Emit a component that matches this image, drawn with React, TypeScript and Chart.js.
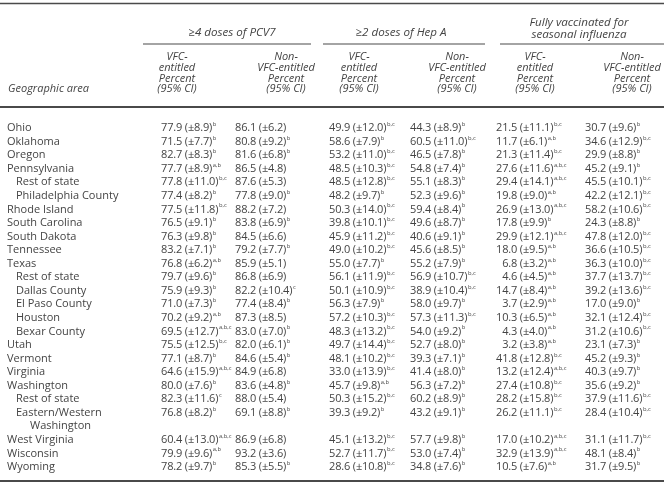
import React, { useEffect, useRef } from "react";
import { Chart, registerables } from "chart.js";
Chart.register(...registerables);

// ---------- data ----------
const areaLines: string[][] = [
  ["Ohio"], ["Oklahoma"], ["Oregon"], ["Pennsylvania"], ["Rest of state"], ["Philadelphia County"],
  ["Rhode Island"], ["South Carolina"], ["South Dakota"], ["Tennessee"], ["Texas"], ["Rest of state"],
  ["Dallas County"], ["El Paso County"], ["Houston"], ["Bexar County"], ["Utah"], ["Vermont"],
  ["Virginia"], ["Washington"], ["Rest of state"], ["Eastern/Western", "Washington"],
  ["West Virginia"], ["Wisconsin"], ["Wyoming"],
];
const areaSub = [0,0,0,0,1,1,0,0,0,0,0,1,1,1,1,1,0,0,0,0,1,1,0,0,0];

type Cell = [number, number, string];
const pcvVfc: Cell[] = [
  [77.9,8.9,"b"],[71.5,7.7,"b"],[82.7,8.3,"b"],[77.7,8.9,"a,b"],[77.8,11.0,"b,c"],[77.4,8.2,"b"],
  [77.5,11.8,"b,c"],[76.5,9.1,"b"],[76.3,9.8,"b"],[83.2,7.1,"b"],[76.8,6.2,"a,b"],[79.7,9.6,"b"],
  [75.9,9.3,"b"],[71.0,7.3,"b"],[70.2,9.2,"a,b"],[69.5,12.7,"a,b,c"],[75.5,12.5,"b,c"],[77.1,8.7,"b"],
  [64.6,15.9,"a,b,c"],[80.0,7.6,"b"],[82.3,11.6,"c"],[76.8,8.2,"b"],[60.4,13.0,"a,b,c"],[79.9,9.6,"a,b"],[78.2,9.7,"b"],
];
const pcvNon: Cell[] = [
  [86.1,6.2,""],[80.8,9.2,"b"],[81.6,6.8,"b"],[86.5,4.8,""],[87.6,5.3,""],[77.8,9.0,"b"],
  [88.2,7.2,""],[83.8,6.9,"b"],[84.5,6.6,""],[79.2,7.7,"b"],[85.9,5.1,""],[86.8,6.9,""],
  [82.2,10.4,"c"],[77.4,8.4,"b"],[87.3,8.5,""],[83.0,7.0,"b"],[82.0,6.1,"b"],[84.6,5.4,"b"],
  [84.9,6.8,""],[83.6,4.8,"b"],[88.0,5.4,""],[69.1,8.8,"b"],[86.9,6.8,""],[93.2,3.6,""],[85.3,5.5,"b"],
];
const hepVfc: Cell[] = [
  [49.9,12.0,"b,c"],[58.6,7.9,"b"],[53.2,11.0,"b,c"],[48.5,10.3,"b,c"],[48.5,12.8,"b,c"],[48.2,9.7,"b"],
  [50.3,14.0,"b,c"],[39.8,10.1,"b,c"],[45.9,11.2,"b,c"],[49.0,10.2,"b,c"],[55.0,7.7,"b"],[56.1,11.9,"b,c"],
  [50.1,10.9,"b,c"],[56.3,7.9,"b"],[57.2,10.3,"b,c"],[48.3,13.2,"b,c"],[49.7,14.4,"b,c"],[48.1,10.2,"b,c"],
  [33.0,13.9,"b,c"],[45.7,9.8,"a,b"],[50.3,15.2,"b,c"],[39.3,9.2,"b"],[45.1,13.2,"b,c"],[52.7,11.7,"b,c"],[28.6,10.8,"b,c"],
];
const hepNon: Cell[] = [
  [44.3,8.9,"b"],[60.5,11.0,"b,c"],[46.5,7.8,"b"],[54.8,7.4,"b"],[55.1,8.3,"b"],[52.3,9.6,"b"],
  [59.4,8.4,"b"],[49.6,8.7,"b"],[40.6,9.1,"b"],[45.6,8.5,"b"],[55.2,7.9,"b"],[56.9,10.7,"b,c"],
  [38.9,10.4,"b,c"],[58.0,9.7,"b"],[57.3,11.3,"b,c"],[54.0,9.2,"b"],[52.7,8.0,"b"],[39.3,7.1,"b"],
  [41.4,8.0,"b"],[56.3,7.2,"b"],[60.2,8.9,"b"],[43.2,9.1,"b"],[57.7,9.8,"b"],[53.0,7.4,"b"],[34.8,7.6,"b"],
];
const fluVfc: Cell[] = [
  [21.5,11.1,"b,c"],[11.7,6.1,"a,b"],[21.3,11.4,"b,c"],[27.6,11.6,"a,b,c"],[29.4,14.1,"a,b,c"],[19.8,9.0,"a,b"],
  [26.9,13.0,"a,b,c"],[17.8,9.9,"b"],[29.9,12.1,"a,b,c"],[18.0,9.5,"a,b"],[6.8,3.2,"a,b"],[4.6,4.5,"a,b"],
  [14.7,8.4,"a,b"],[3.7,2.9,"a,b"],[10.3,6.5,"a,b"],[4.3,4.0,"a,b"],[3.2,3.8,"a,b"],[41.8,12.8,"b,c"],
  [13.2,12.4,"a,b,c"],[27.4,10.8,"b,c"],[28.2,15.8,"b,c"],[26.2,11.1,"b,c"],[17.0,10.2,"a,b,c"],[32.9,13.9,"a,b,c"],[10.5,7.6,"a,b"],
];
const fluNon: Cell[] = [
  [30.7,9.6,"b"],[34.6,12.9,"b,c"],[29.9,8.8,"b"],[45.2,9.1,"b"],[45.5,10.1,"b,c"],[42.2,12.1,"b,c"],
  [58.2,10.6,"b,c"],[24.3,8.8,"b"],[47.8,12.0,"b,c"],[36.6,10.5,"b,c"],[36.3,10.0,"b,c"],[37.7,13.7,"b,c"],
  [39.2,13.6,"b,c"],[17.0,9.0,"b"],[32.1,12.4,"b,c"],[31.2,10.6,"b,c"],[23.1,7.3,"b"],[45.2,9.3,"b"],
  [40.3,9.7,"b"],[35.6,9.2,"b"],[37.9,11.6,"b,c"],[28.4,10.4,"b,c"],[31.1,11.7,"b,c"],[48.1,8.4,"b"],[31.7,9.5,"b"],
];
const columns = [pcvVfc, pcvNon, hepVfc, hepNon, fluVfc, fluNon];

const groupTitles: string[][] = [["≥4 doses of PCV7"], ["≥2 doses of Hep A"], ["Fully vaccinated for", "seasonal influenza"]];
const subVfc = ["VFC-", "entitled", "Percent", "(95% CI)"];
const subNon = ["Non-", "VFC-entitled", "Percent", "(95% CI)"];
const stubTitle = "Geographic area";

// ---------- layout ----------
const W = 669, H = 484;
const FONT = '"Open Sans", "DejaVu Sans", sans-serif';
const FS = 11;
const TEXT = "#444444";
const RULE = "#4a4a4a";
const COL_X = [161, 235, 329, 410, 496, 585];
const SUB_CX = [177, 286, 359, 457, 535, 632];
const GROUP_CX = [232, 401, 579];
const GROUP_LINE = [[143, 311], [323, 485], [500, 664]];
const FIRST_ROW_Y = 128, LAST_ROW_Y = 467;

let lineCursor = 0;
const lineIndex = areaLines.map((l) => { const v = lineCursor; lineCursor += l.length; return v; });
const totalLines = lineCursor;

const tablePlugin = {
  id: "tableText",
  afterDraw(chart: any) {
    const ctx: any = chart.ctx;
    ctx.save();
    ctx.fillStyle = TEXT;
    ctx.strokeStyle = RULE;
    const hline = (x1: number, x2: number, y: number, w: number) => {
      ctx.beginPath(); ctx.lineWidth = w; ctx.moveTo(x1, y); ctx.lineTo(x2, y); ctx.stroke();
    };
    hline(0, 664, 3.5, 1.3);
    hline(0, 664, 107, 2);
    hline(0, 664, 481, 2);
    GROUP_LINE.forEach(([a, b]) => hline(a, b, 44, 1.2));

    ctx.textBaseline = "middle";
    ctx.textAlign = "center";
    ctx.font = `italic 11.6px ${FONT}`;
    groupTitles.forEach((g, i) => {
      if (g.length === 1) ctx.fillText(g[0], GROUP_CX[i], 33);
      else { ctx.fillText(g[0], GROUP_CX[i], 23); ctx.fillText(g[1], GROUP_CX[i], 35); }
    });
    ctx.font = `italic ${FS}px ${FONT}`;
    SUB_CX.forEach((cx, i) => {
      const lines = i % 2 === 0 ? subVfc : subNon;
      lines.forEach((t, k) => ctx.fillText(t, cx, 57 + k * 10.7));
    });
    ctx.textAlign = "left";
    ctx.fillText(stubTitle, 8, 89);

    // body rows placed with the y-scale
    const yScale = chart.scales.y;
    ctx.font = `${FS}px ${FONT}`;
    areaLines.forEach((lines, i) => {
      lines.forEach((t, k) => {
        const y = yScale.getPixelForValue(lineIndex[i] + k);
        const x = 7 + (areaSub[i] ? 9 : 0) + (k > 0 ? 14 : 0);
        ctx.fillText(t, x, y);
      });
    });
    ctx.letterSpacing = "-0.15px";
    const digitW = ctx.measureText("0").width;
    chart.data.datasets.forEach((ds: any, c: number) => {
      const meta = chart.getDatasetMeta(c);
      meta.data.forEach((pt: any, i: number) => {
        const [v, ci, sup] = columns[c][i];
        const y = pt.y;
        ctx.font = `${FS}px ${FONT}`;
        ctx.letterSpacing = "-0.15px";
        const txt = `${v.toFixed(1)} (±${ci.toFixed(1)})`;
        const x = COL_X[c] + (v < 10 ? digitW : 0);
        ctx.fillText(txt, x, y);
        if (sup) {
          const w = ctx.measureText(txt).width;
          ctx.font = `5.8px ${FONT}`;
          ctx.letterSpacing = "0px";
          ctx.fillText(sup, x + w + 0.6, y - 3.6);
        }
      });
    });
    ctx.restore();
  },
};

export default function App() {
  const ref = useRef<HTMLCanvasElement>(null);
  useEffect(() => {
    document.body.style.margin = "0";
    const rowH = (LAST_ROW_Y - FIRST_ROW_Y) / (totalLines - 1);
    const chart = new Chart(ref.current!, {
      type: "scatter",
      data: {
        datasets: columns.map((col, c) => ({
          label: `col${c}`,
          data: col.map((_, i) => ({ x: c, y: lineIndex[i] })),
          pointRadius: 0,
          showLine: false,
        })),
      },
      options: {
        animation: false,
        responsive: false,
        devicePixelRatio: 1,
        events: [],
        layout: { padding: { top: FIRST_ROW_Y - rowH / 2, bottom: H - (LAST_ROW_Y + rowH / 2), left: 0, right: 0 } },
        plugins: { legend: { display: false }, tooltip: { enabled: false } },
        scales: {
          x: { type: "linear", display: false, min: -0.5, max: 5.5 },
          y: { type: "linear", display: false, reverse: true, min: -0.5, max: totalLines - 0.5 },
        },
      },
      plugins: [tablePlugin],
    });
    return () => chart.destroy();
  }, []);
  return (
    <div style={{ width: W, height: H, background: "#fff" }}>
      <canvas ref={ref} width={W} height={H} style={{ display: "block" }} />
    </div>
  );
}
